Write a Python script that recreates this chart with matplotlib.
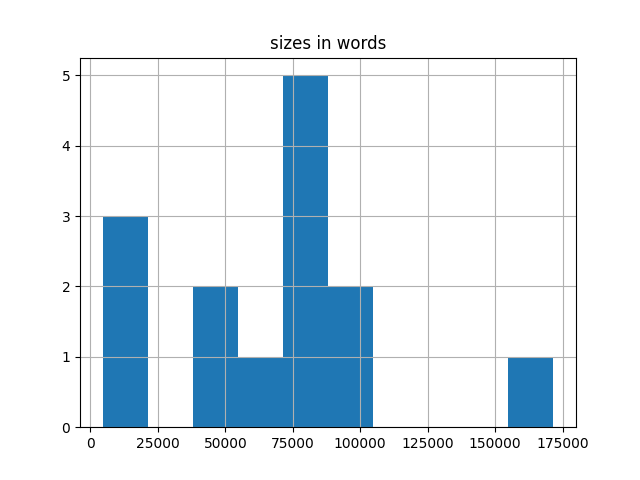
import matplotlib
matplotlib.use("Agg")
import matplotlib.pyplot as plt

sizes_in_words = [4500, 12000, 18000, 45000, 50000, 62000, 74000, 78000,
                  80000, 83000, 86000, 92000, 100000, 171600]

fig, ax = plt.subplots(figsize=(6.4, 4.8), dpi=100)
ax.hist(sizes_in_words, bins=10, color="#1f77b4")
ax.grid(True)
ax.set_title("sizes in words")
fig.savefig("out.png")
